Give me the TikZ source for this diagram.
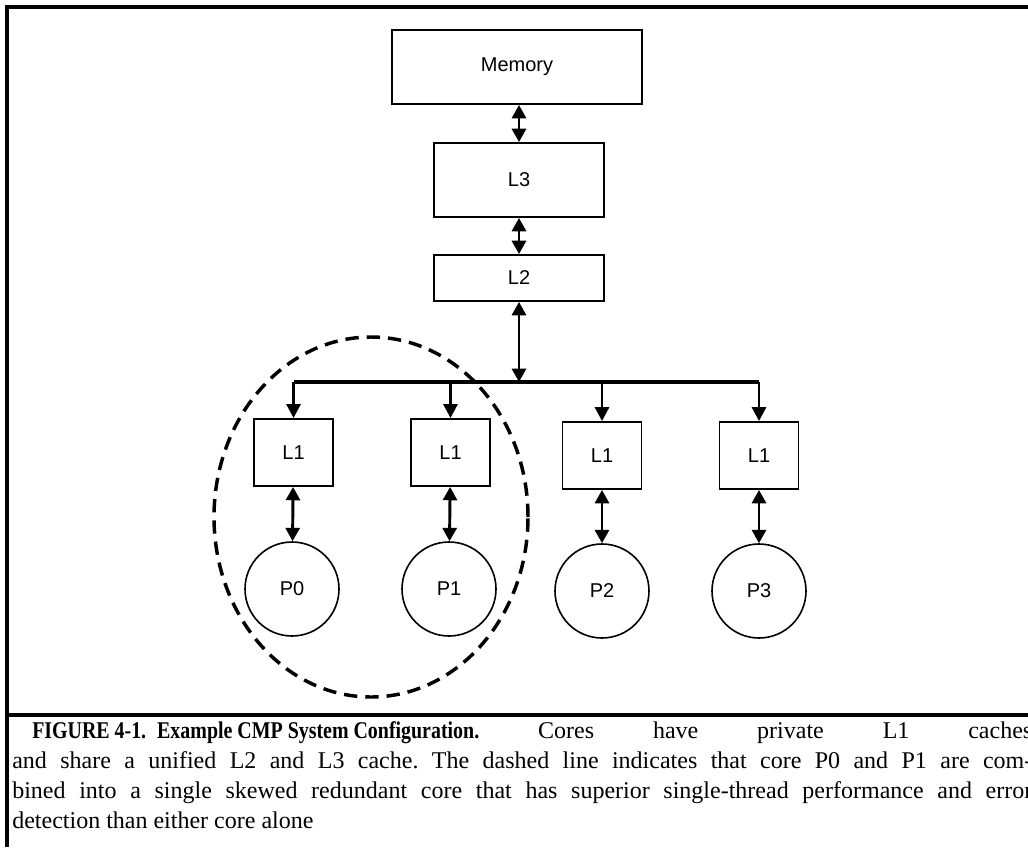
\documentclass[tikz,border=0pt]{standalone}
\usepackage{graphicx}
\usepackage{fontspec}
\setmainfont{Liberation Serif}
\newfontfamily\boxfont{Liberation Sans}
\usetikzlibrary{arrows.meta,shapes.geometric}
\begin{document}
\begin{tikzpicture}[x=0.75pt,y=-0.75pt,
  cachebox/.style={draw,line width=1.4pt,inner sep=0pt,font=\boxfont\fontsize{15}{18}\selectfont},
  core/.style={draw,circle,line width=1.2pt,inner sep=0pt,minimum size=70.5pt,font=\boxfont\fontsize{15}{18}\selectfont},
  link/.style={line width=2.2pt,-{Triangle[length=10.5pt,width=10.5pt]}},
  duplex/.style={line width=2.2pt,{Triangle[length=10pt,width=10.5pt]}-{Triangle[length=10pt,width=10.5pt]}},
  frameline/.style={line width=2.3pt},
  group/.style={line width=2.6pt,dash pattern=on 10pt off 6pt}]
\useasboundingbox (0,0) rectangle (1028,847);

% frame of the figure and caption separator
\draw[frameline] (7,847) -- (7,7) -- (1029,7);
\draw[frameline] (7,715) -- (1029,715);

% memory hierarchy
\node[cachebox,minimum width=187.5pt,minimum height=55.5pt] (mem) at (517,67) {Memory};
\node[cachebox,minimum width=127.5pt,minimum height=55.5pt] (l3) at (519,180) {L3};
\node[cachebox,minimum width=127.5pt,minimum height=34.5pt] (l2) at (519,278) {L2};

% private L1 caches
\node[cachebox,minimum width=59.25pt,minimum height=50.25pt] (l1a) at (293.5,452.5) {L1};
\node[cachebox,minimum width=59.25pt,minimum height=50.25pt] (l1b) at (450.5,452.5) {L1};
\node[cachebox,minimum width=59.25pt,minimum height=50.25pt] (l1c) at (602,455.5) {L1};
\node[cachebox,minimum width=59.25pt,minimum height=50.25pt] (l1d) at (759,455.5) {L1};

% cores
\node[core] (p0) at (292,589) {P0};
\node[core] (p1) at (449,589) {P1};
\node[core] (p2) at (602,591) {P2};
\node[core] (p3) at (759,591) {P3};

% shared bus
\coordinate (busl) at (293.5,382);
\coordinate (busr) at (759,382);
\draw[line width=2.3pt] (busl) -- (busr);

% connectors
\draw[duplex] (mem.south -| l3.north) -- (l3.north);
\draw[duplex] (l3) -- (l2);
\draw[duplex] (l2.south) -- (l2.south |- busl);
\foreach \c in {l1a,l1b,l1c,l1d}
  \draw[link] (\c.north |- busl) -- (\c.north);
\draw[duplex] (l1a) -- (p0);
\draw[duplex] (l1b) -- (p1);
\draw[duplex] (l1c) -- (p2);
\draw[duplex] (l1d) -- (p3);

% redundant core pair
\node[group,draw,ellipse,minimum width=235.5pt,minimum height=270pt,inner sep=0pt] (pair) at (371,517) {};

% caption
\node[anchor=north west,inner sep=0pt,text width=765pt,align=justify] (cap) at (12,721)
 {\fontsize{18}{22.5}\selectfont\frenchspacing\setlength{\parindent}{15pt}\indent
  \scalebox{0.83}[1]{\textbf{FIGURE 4-1.\hspace{0.55em}Example CMP System Configuration.}} Cores have private L1 caches\linebreak
  and share a unified L2 and L3 cache. The dashed line indicates that core P0 and P1 are com-\linebreak
  bined into a single skewed redundant core that has superior single-thread performance and error\linebreak
  detection than either core alone\par};
\end{tikzpicture}
\end{document}
